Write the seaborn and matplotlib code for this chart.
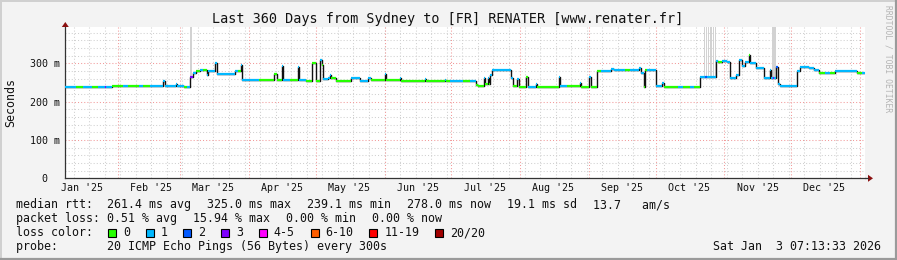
import matplotlib
matplotlib.use("Agg")
import matplotlib.pyplot as plt
from matplotlib.patches import Rectangle, Polygon
from matplotlib.lines import Line2D
import numpy as np
import pandas as pd
import seaborn as sns

# ---------------- data ----------------
title = "Last 360 Days from Sydney to [FR] RENATER [www.renater.fr]"
y_label = "Seconds"
y_ticks = [0, 100, 200, 300]
y_tick_labels = ["0  ", "100 m", "200 m", "300 m"]
month_labels = ["Jan '25", "Feb '25", "Mar '25", "Apr '25", "May '25", "Jun '25",
                "Jul '25", "Aug '25", "Sep '25", "Oct '25", "Nov '25", "Dec '25"]
start_time = "2025-01-08 07:13:33"
span_days = 360

# median rtt step segments: start day (since start_time), value in ms, loss class index
seg_day = [0.0, 5.0, 8.0, 12.0, 14.5, 17.9, 18.5, 21.0, 26.0, 28.0, 33.0, 35.0, 38.0,
           44.0, 44.9, 49.8, 50.3, 53.4, 55.0, 56.1, 57.5, 58.8, 60.6, 62.0, 63.6, 64.2,
           67.4, 68.1, 76.4, 77.7, 79.0, 79.5, 87.0, 93.9, 95.3, 97.5, 98.2, 101.0,
           104.6, 105.2, 108.3, 111.0, 112.7, 114.6, 115.5, 116.2, 118.2, 119.2, 119.6,
           121.8, 128.6, 132.6, 136.3, 137.6, 143.8, 144.4, 150.5, 151.1, 161.8, 162.4,
           170.8, 171.4, 173.2, 179.0, 182.0, 184.9, 185.8, 188.6, 189.1, 190.2, 190.7,
           191.2, 191.9, 196.1, 197.5, 199.3, 200.6, 201.4, 203.3, 204.0, 207.4, 208.3,
           211.9, 212.5, 222.1, 222.7, 226.0, 231.7, 232.1, 235.9, 236.4, 239.2, 241.0,
           245.6, 247.0, 252.0, 254.0, 258.2, 259.1, 260.5, 261.0, 262.0, 265.8, 268.6,
           269.3, 276.0, 278.0, 281.0, 283.0, 285.7, 288.0, 289.0, 292.8, 294.0, 295.5,
           297.9, 299.3, 301.9, 303.1, 304.6, 305.9, 307.6, 308.2, 310.9, 314.4, 317.1,
           317.7, 318.5, 319.0, 320.1, 320.8, 321.7, 329.4, 330.7, 334.8, 336.9, 339.1,
           342.0, 344.0, 346.5, 356.4, 358.5]
seg_ms = [239, 239, 239, 239, 239, 239, 239, 241, 241, 241, 241, 241, 241,
          255, 242, 245, 242, 238, 238, 265, 275, 281, 283, 283, 271, 280,
          300, 273, 280, 280, 295, 257, 257, 273, 257, 293, 257, 257,
          290, 257, 253, 302, 253, 308, 295, 258, 262, 269, 262,
          253, 262, 253, 261, 256, 273, 256, 262, 255, 260, 253,
          256, 253, 255, 255, 255, 243, 240, 262, 245, 262, 247,
          271, 282, 284, 282, 284, 262, 240, 258, 238, 265, 238,
          247, 238, 264, 240, 240, 249, 238, 264, 238, 280, 280,
          286, 282, 282, 282, 289, 274, 238, 282, 282, 240, 249,
          238, 238, 238, 238, 238, 264, 265, 265, 306, 304, 306,
          303, 262, 271, 308, 293, 304, 322, 302, 289, 262, 284,
          262, 262, 262, 290, 247, 240, 280, 290, 287, 282, 275,
          275, 275, 281, 276, 276]
seg_loss = [1, 0, 1, 0, 1, 3, 1, 0, 1, 0, 1, 0, 1,
            1, 1, 1, 1, 0, 1, 3, 1, 0, 1, 0, 1, 1,
            1, 1, 1, 0, 1, 1, 0, 0, 0, 1, 1, 0,
            1, 1, 0, 0, 0, 1, 0, 1, 1, 1, 0,
            0, 1, 1, 1, 0, 1, 0, 1, 0, 1, 0,
            1, 0, 1, 0, 1, 0, 0, 1, 0, 1, 0,
            1, 1, 1, 1, 1, 1, 0, 1, 0, 0, 1,
            1, 0, 1, 1, 0, 1, 0, 1, 0, 0, 1,
            1, 1, 0, 1, 1, 1, 0, 0, 1, 1, 1,
            0, 1, 0, 1, 0, 1, 2, 1, 1, 0, 1,
            1, 1, 1, 1, 1, 1, 0, 1, 1, 1, 1,
            1, 3, 1, 2, 1, 1, 1, 1, 1, 1, 0,
            1, 0, 1, 0, 1]

# smoke reaching the top of the graph: (start day, end day, lower edge ms)
smoke_start = [56.1, 287.5, 288.6, 289.3, 290.1, 290.8, 291.5, 292.3, 318.2]
smoke_end = [57.0, 287.9, 289.0, 289.7, 290.5, 291.2, 291.9, 292.7, 320.0]
smoke_floor = [268, 266, 266, 266, 266, 266, 266, 266, 264]

loss_labels = ["0", "1", "2", "3", "4-5", "6-10", "11-19", "20/20"]
loss_colors = ["#26ff00", "#00b8ff", "#0059ff", "#7e00ff", "#ff00ff", "#ff5e00",
               "#ff0000", "#a10000"]

stats_rtt = ["median rtt:  261.4 ms avg", "325.0 ms max", "239.1 ms min",
             "278.0 ms now", "19.1 ms sd", "13.7   am/s"]
stats_loss = ["packet loss: 0.51 % avg", "15.94 % max", "0.00 % min", "0.00 % now"]
probe_text = "probe:       20 ICMP Echo Pings (56 Bytes) every 300s"
stamp_text = "Sat Jan  3 07:13:33 2026"
credit_text = "RRDTOOL / TOBI OETIKER"

# ---------------- figure ----------------
W, H = 897, 260
sns.set_theme(style="white")
plt.rcParams["font.family"] = ["DejaVu Sans Mono", "DejaVu Sans"]

fig = plt.figure(figsize=(W / 100, H / 100), dpi=100, facecolor="#f3f3f3")

def fx(px):
    return px / W

def fy(py):
    return 1 - py / H

x_left, x_right = 65.3, 865.1
y_top, y_zero = 27.0, 178.3
ax = fig.add_axes([fx(x_left), fy(y_zero), (x_right - x_left) / W, (y_zero - y_top) / H])
ax.set_facecolor("white")

t0 = pd.Timestamp(start_time)
t_end = t0 + pd.Timedelta(days=span_days)
ymax = (y_zero - y_top) / 0.383

# grid
months = pd.date_range("2025-02-01", "2026-01-01", freq="MS")
weeks = pd.date_range("2025-01-12", "2026-01-03", freq="7D")
for w in weeks:
    ax.axvline(w, color="#d0d0d0", lw=0.75, ls=(0, (1, 2)), zorder=0)
for yv in np.arange(20, ymax, 20):
    if yv % 100:
        ax.axhline(yv, color="#d0d0d0", lw=0.75, ls=(0, (1, 2)), zorder=0)
for m in months:
    ax.axvline(m, color="#f29a9a", lw=0.75, ls=(0, (1, 2)), zorder=0.5)
for yv in [100, 200, 300]:
    ax.axhline(yv, color="#f29a9a", lw=0.75, ls=(0, (1, 2)), zorder=0.5)

# smoke bands
for s, e, f in zip(smoke_start, smoke_end, smoke_floor):
    ax.fill_between([t0 + pd.Timedelta(days=s), t0 + pd.Timedelta(days=e)], f, ymax,
                    color="#d2d2d2", lw=0, zorder=1)

# median line (black steps) via seaborn
days_full = seg_day + [span_days]
ms_full = seg_ms + [seg_ms[-1]]
df = pd.DataFrame({"time": [t0 + pd.Timedelta(days=d) for d in days_full], "ms": ms_full})
sns.lineplot(data=df, x="time", y="ms", drawstyle="steps-post", color="#111111",
             lw=1.0, estimator=None, ax=ax, zorder=2)

# loss-coloured median segments
for i in range(len(seg_day)):
    a = t0 + pd.Timedelta(days=seg_day[i])
    b = t0 + pd.Timedelta(days=days_full[i + 1])
    ax.hlines(seg_ms[i], a, b, colors=loss_colors[seg_loss[i]], lw=1.6, zorder=3)

ax.set_xlim(t0, t_end)
ax.set_ylim(0, ymax)
ax.set_xlabel("")
ax.set_ylabel("")

# ticks
ax.set_yticks(y_ticks)
ax.set_yticklabels(y_tick_labels)
mid_months = [pd.Timestamp(2025, m, 16) for m in range(1, 13)]
ax.set_xticks(mid_months)
ax.set_xticklabels(month_labels)
ax.tick_params(axis="both", length=0, labelsize=7.2, colors="#111111")
ax.tick_params(axis="x", pad=3.2)
ax.tick_params(axis="y", pad=3.6)

for side in ["top", "right"]:
    ax.spines[side].set_visible(False)
for side in ["left", "bottom"]:
    ax.spines[side].set_color("#333333")
    ax.spines[side].set_linewidth(0.9)

# arrows
fig.add_artist(Polygon([[fx(x_left - 3.5), fy(y_top)], [fx(x_left + 3.5), fy(y_top)],
                        [fx(x_left), fy(y_top - 5)]], closed=True, color="#8b1010", lw=0))
fig.add_artist(Line2D([fx(x_right), fx(868)], [fy(y_zero), fy(y_zero)], color="#333333", lw=0.9))
fig.add_artist(Polygon([[fx(868), fy(y_zero - 3.5)], [fx(868), fy(y_zero + 3.5)],
                        [fx(873), fy(y_zero)]], closed=True, color="#8b1010", lw=0))

# title and labels
fig.text(fx(448), fy(19), title, ha="center", va="center", fontsize=9.75, color="#111111")
fig.text(fx(11), fy(102.5), y_label, ha="center", va="center", rotation=90,
         fontsize=8.37, color="#111111")
fig.text(fx(888), fy(5), credit_text, ha="center", va="top", rotation=270,
         fontsize=5.8, color="#b4b4b4")

# legend rows
fs = 8.37
cw = 7.0
gap = 16.0
rows_y = [204.5, 218.5, 232.5, 246.5]

def put_items(items, y):
    x = 16.0
    for it in items:
        fig.text(fx(x), fy(y), it, ha="left", va="center", fontsize=fs, color="#111111")
        x += len(it) * cw + gap

put_items(stats_rtt, rows_y[0])
put_items(stats_loss, rows_y[1])

fig.text(fx(16), fy(rows_y[2]), "loss color:", ha="left", va="center", fontsize=fs,
         color="#111111")
bx = 108.0
for lab, col in zip(loss_labels, loss_colors):
    fig.add_artist(Rectangle((fx(bx), fy(rows_y[2] + 4)), 8 / W, 8 / H, facecolor=col,
                             edgecolor="black", lw=0.8))
    fig.text(fx(bx + 15), fy(rows_y[2]), lab, ha="left", va="center", fontsize=fs,
             color="#111111")
    bx = bx + 15 + len(lab) * cw + 15.7

fig.text(fx(16), fy(rows_y[3]), probe_text, ha="left", va="center", fontsize=fs,
         color="#111111")
fig.text(fx(881), fy(rows_y[3]), stamp_text, ha="right", va="center", fontsize=fs,
         color="#111111")

# frame
fig.add_artist(Line2D([0, 1], [fy(0.8), fy(0.8)], color="#d0d0d0", lw=1.4))
fig.add_artist(Line2D([fx(0.8), fx(0.8)], [0, 1], color="#d0d0d0", lw=1.4))
fig.add_artist(Line2D([0, 1], [fy(259), fy(259)], color="#9a9a9a", lw=1.6))
fig.add_artist(Line2D([fx(896), fx(896)], [0, 1], color="#9a9a9a", lw=1.6))

fig.savefig("out.png", dpi=100, facecolor=fig.get_facecolor())
